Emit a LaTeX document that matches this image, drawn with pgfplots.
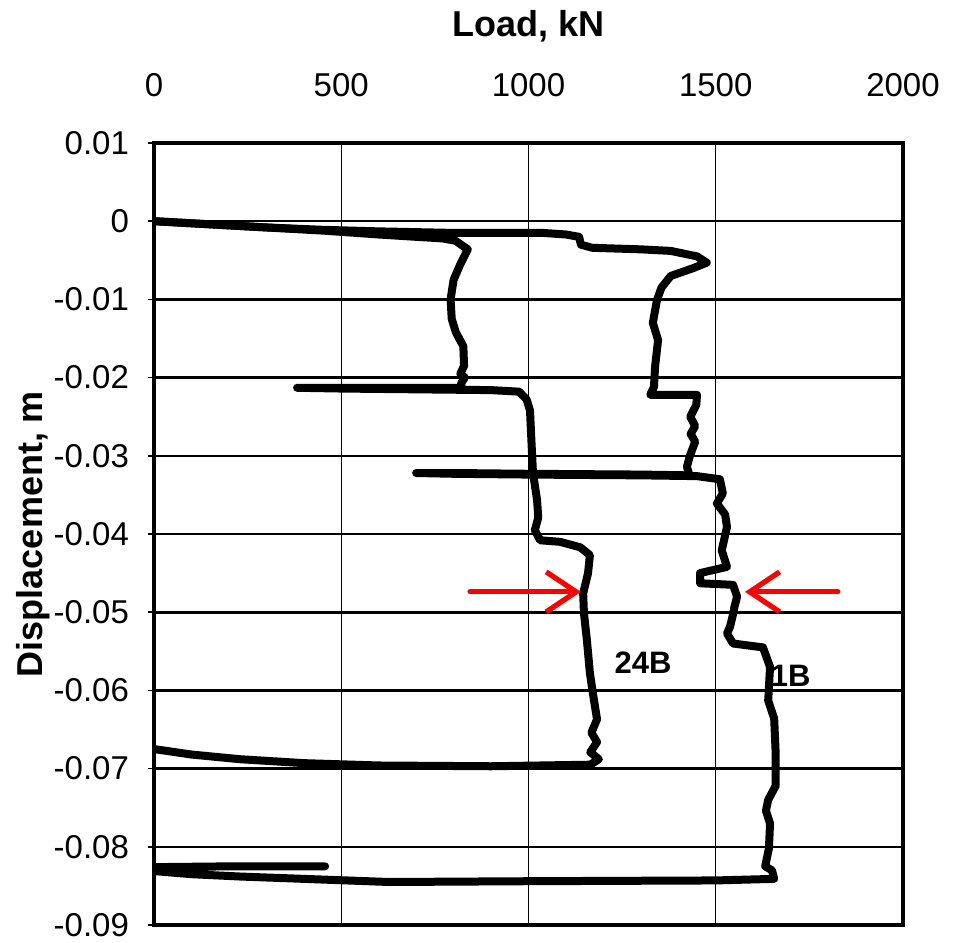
\documentclass[border=0pt]{standalone}
\usepackage{fontspec}
\setmainfont{Liberation Sans}
\usepackage{pgfplots}
\pgfplotsset{compat=1.18}
\usetikzlibrary{arrows.meta}
\begin{document}
\begin{tikzpicture}
\begin{axis}[
  scale only axis,
  width=374.5pt, height=391pt,
  xmin=0, xmax=2000, ymin=-0.09, ymax=0.01,
  scaled x ticks=false, scaled y ticks=false,
  xtick={0,500,1000,1500,2000},
  xticklabels={0,500,1000,1500,2000},
  ytick={-0.09,-0.08,-0.07,-0.06,-0.05,-0.04,-0.03,-0.02,-0.01,0,0.01},
  yticklabels={-0.09,-0.08,-0.07,-0.06,-0.05,-0.04,-0.03,-0.02,-0.01,0,0.01},
  xticklabel pos=upper,
  ytick pos=left,
  tick label style={font=\fontsize{16.5}{19}\selectfont},
  xticklabel style={anchor=base, yshift=20pt},
  yticklabel style={anchor=east, xshift=-6pt},
  xtick style={draw=none},
  ytick style={black, line width=0.8pt},
  tick align=outside,
  major tick length=3pt,
  grid=major,
  x grid style={black, line width=0.6pt},
  y grid style={black, line width=1.3pt},
  axis line style={black, line width=2pt},
  xlabel={Load, kN},
  ylabel={Displacement, m},
  xlabel style={at={(axis description cs:0.5,1)}, anchor=base, yshift=53pt, font=\bfseries\fontsize{18}{21}\selectfont},
  ylabel style={at={(axis description cs:-0.1495,0.5)}, anchor=base, rotate=0, font=\bfseries\fontsize{18}{21}\selectfont},
  clip=true,
]
% Pile 24B
\addplot[black, line width=4pt, line join=round, line cap=round] coordinates {
(0,0) (150,-0.0004) (300,-0.0008) (450,-0.0012) (600,-0.0017) (700,-0.0020) (770,-0.0022) (805,-0.0025) (838,-0.0036) (818,-0.0055) (800,-0.0075) (792,-0.0100) (795,-0.0125) (806,-0.0142) (826,-0.0160) (828,-0.0185) (818,-0.0195) (830,-0.0200) (820,-0.0207) (822,-0.0213) (700,-0.0213) (500,-0.0213) (382,-0.0213) (500,-0.0214) (700,-0.0215) (900,-0.0216) (975,-0.0218) (995,-0.0228) (1004,-0.0242) (1009,-0.0293) (1012,-0.0322) (1023,-0.0357) (1026,-0.0379) (1017,-0.0395) (1031,-0.0408) (1084,-0.0410) (1138,-0.0417) (1164,-0.0427) (1159,-0.0450) (1146,-0.0476) (1148,-0.0501) (1156,-0.0536) (1164,-0.0578) (1172,-0.0604) (1183,-0.0637) (1168,-0.0654) (1183,-0.0666) (1165,-0.0679) (1188,-0.0688) (1165,-0.0695) (900,-0.0697) (600,-0.0696) (400,-0.0693) (230,-0.0688) (100,-0.0682) (0,-0.0675)
};
% Pile 1B
\addplot[black, line width=4pt, line join=round, line cap=round] coordinates {
(0,0) (150,-0.0004) (300,-0.0008) (450,-0.0011) (600,-0.0013) (800,-0.0015) (1039,-0.0015) (1100,-0.0017) (1135,-0.0020) (1140,-0.0030) (1170,-0.0034) (1300,-0.0036) (1380,-0.0038) (1450,-0.0045) (1476,-0.0053) (1440,-0.0060) (1380,-0.0070) (1355,-0.0085) (1343,-0.0101) (1332,-0.0130) (1346,-0.0152) (1338,-0.0186) (1335,-0.0212) (1325,-0.0222) (1400,-0.0222) (1450,-0.0222) (1448,-0.0235) (1432,-0.0250) (1445,-0.0262) (1433,-0.0272) (1445,-0.0282) (1431,-0.0300) (1423,-0.0314) (1430,-0.0325) (1300,-0.0324) (1000,-0.0323) (800,-0.0322) (700,-0.0322) (800,-0.0323) (1000,-0.0324) (1300,-0.0325) (1450,-0.0326) (1511,-0.0330) (1519,-0.0348) (1503,-0.0361) (1525,-0.0375) (1530,-0.0391) (1516,-0.0421) (1530,-0.0442) (1458,-0.0450) (1458,-0.0463) (1546,-0.0465) (1557,-0.0480) (1550,-0.0493) (1545,-0.0505) (1538,-0.0519) (1530,-0.0527) (1546,-0.0540) (1626,-0.0545) (1645,-0.0570) (1640,-0.0613) (1656,-0.0636) (1660,-0.0680) (1660,-0.0722) (1640,-0.0740) (1634,-0.0754) (1645,-0.0770) (1642,-0.0802) (1632,-0.0825) (1650,-0.0830) (1656,-0.0841) (1500,-0.0843) (1000,-0.0844) (628,-0.0845) (230,-0.0838) (100,-0.0835) (0,-0.0831) (0,-0.0826) (200,-0.0825) (457,-0.0825)
};
\node[font=\bfseries\fontsize{15.5}{18}\selectfont] at (axis cs:1306,-0.0564) {24B};
\node[font=\bfseries\fontsize{15.5}{18}\selectfont] at (axis cs:1700,-0.0581) {1B};
\draw[red, line width=2.6pt, line cap=round, -{Straight Barb[length=15pt, width=20pt, line width=2.6pt]}] (axis cs:844,-0.0474) -- (axis cs:1140,-0.0474);
\draw[red, line width=2.6pt, line cap=round, -{Straight Barb[length=15pt, width=20pt, line width=2.6pt]}] (axis cs:1826,-0.0474) -- (axis cs:1578,-0.0474);
\end{axis}
\pgfresetboundingbox
\path ([shift={(-77pt,-8.5pt)}]current axis.south west) rectangle ([shift={(31pt,71.5pt)}]current axis.north east);
\end{tikzpicture}
\end{document}
